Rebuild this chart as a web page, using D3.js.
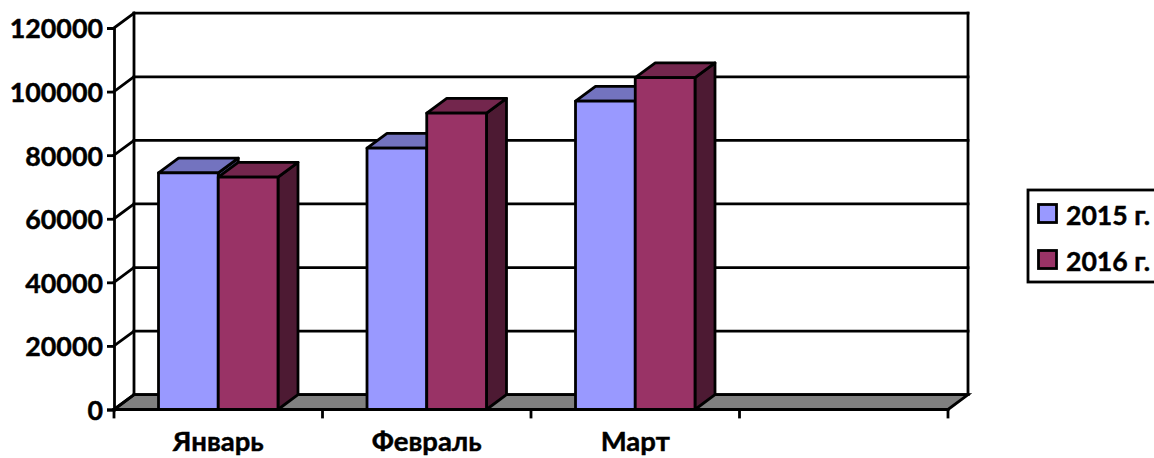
<!DOCTYPE html>
<html>
<head>
<meta charset="utf-8">
<script src="https://cdnjs.cloudflare.com/ajax/libs/d3/7.8.5/d3.min.js"></script>
<style>
html,body{margin:0;padding:0;background:#fff;overflow:hidden}
svg{display:block}
text{font-family:Lato,"Open Sans",sans-serif;font-weight:700;fill:#000;stroke:#000;stroke-width:0.45px}
</style>
</head>
<body>
<svg id="chart" width="1154" height="458"></svg>
<script>
// Monthly totals for two years, drawn as pseudo-3D clustered columns.
const categories = ["Январь", "Февраль", "Март", ""];
const seriesNames = ["2015 г.", "2016 г."];
const values2015 = [74400, 82200, 97000];
const values2016 = [73100, 93200, 104400];
const yTicks = [0, 20000, 40000, 60000, 80000, 100000, 120000];

const colors = [
  {front: "#9999FF", top: "#7373BF", side: "#4D4D80"},
  {front: "#993366", top: "#73264D", side: "#4D1A33"}
];

const plotLeft = 114, plotRight = 948, plotBase = 409.5, plotTop = 28;
const depthX = 20, depthY = -14.8;
const strokeW = 2.8;

const svg = d3.select("#chart");
const x = d3.scaleBand().domain(categories).range([plotLeft, plotRight]).paddingInner(0).paddingOuter(0);
const y = d3.scaleLinear().domain([0, 120000]).range([plotBase, plotTop]);
const inner = d3.scaleBand().domain(d3.range(seriesNames.length)).range([0, x.bandwidth()]).paddingOuter(0.745).paddingInner(0);

const poly = pts => pts.map(p => p.join(",")).join(" ");
const line = (g, x1, y1, x2, y2) => g.append("line")
  .attr("x1", x1).attr("y1", y1).attr("x2", x2).attr("y2", y2)
  .attr("stroke", "#000").attr("stroke-width", strokeW).attr("stroke-linecap", "square");

// Floor and walls
const walls = svg.append("g");
walls.append("polygon")
  .attr("points", poly([[plotLeft, plotBase], [plotLeft + depthX, plotBase + depthY], [plotRight + depthX, plotBase + depthY], [plotRight, plotBase]]))
  .attr("fill", "#808080").attr("stroke", "#000").attr("stroke-width", strokeW).attr("stroke-linejoin", "miter");
yTicks.forEach(t => {
  const yy = y(t);
  line(walls, plotLeft, yy, plotLeft + depthX, yy + depthY);
  line(walls, plotLeft + depthX, yy + depthY, plotRight + depthX, yy + depthY);
});
line(walls, plotLeft + depthX, y(120000) + depthY, plotLeft + depthX, plotBase + depthY);
line(walls, plotRight + depthX, y(120000) + depthY, plotRight + depthX, plotBase + depthY);

// Value axis
const yAxis = d3.axisLeft(y).tickValues(yTicks).tickSize(7).tickPadding(4).tickFormat(d3.format("d"));
const yG = svg.append("g").attr("transform", `translate(${plotLeft},0)`).call(yAxis);
yG.selectAll("path,line").attr("stroke", "#000").attr("stroke-width", strokeW);
yG.selectAll("text").attr("font-size", 26.8).attr("dy", "0.37em");
yG.attr("font-family", null).attr("font-size", null);

// Category axis: labels from the band scale, tick marks on the band edges
const xAxis = d3.axisBottom(x).tickSize(0).tickPadding(22);
const xG = svg.append("g").attr("transform", `translate(0,${plotBase})`).call(xAxis);
xG.select("path").remove();
xG.selectAll("text").attr("font-size", 27.5);
xG.attr("font-family", null).attr("font-size", null);
const edges = categories.map(c => x(c)).concat([plotRight]);
edges.forEach(e => line(svg, e, plotBase, e, plotBase + 7.5));
line(svg, plotLeft, plotBase, plotRight, plotBase);

// Columns: side face, top face, front face
[values2015, values2016].forEach((vals, s) => {
  const g = svg.append("g");
  vals.forEach((v, i) => {
    const x0 = x(categories[i]) + inner(s), x1 = x0 + inner.bandwidth();
    const yv = y(v);
    const c = colors[s];
    const face = (pts, fill) => g.append("polygon").attr("points", poly(pts))
      .attr("fill", fill).attr("stroke", "#000").attr("stroke-width", strokeW).attr("stroke-linejoin", "round");
    face([[x1, plotBase], [x1 + depthX, plotBase + depthY], [x1 + depthX, yv + depthY], [x1, yv]], c.side);
    face([[x0, yv], [x0 + depthX, yv + depthY], [x1 + depthX, yv + depthY], [x1, yv]], c.top);
    face([[x0, plotBase], [x0, yv], [x1, yv], [x1, plotBase]], c.front);
  });
});

// Legend box, running off the right edge
const legend = svg.append("g");
legend.append("rect").attr("x", 1028).attr("y", 190).attr("width", 160).attr("height", 92)
  .attr("fill", "#fff").attr("stroke", "#000").attr("stroke-width", strokeW);
const legendY = d3.scalePoint().domain(seriesNames).range([213.5, 259.5]);
seriesNames.forEach((name, s) => {
  legend.append("rect").attr("x", 1038.5).attr("y", legendY(name) - 9).attr("width", 18).attr("height", 18)
    .attr("fill", colors[s].front).attr("stroke", "#000").attr("stroke-width", strokeW);
  legend.append("text").attr("x", 1066).attr("y", legendY(name) + 11)
    .attr("font-size", 26.6).text(name);
});
</script>
</body>
</html>
